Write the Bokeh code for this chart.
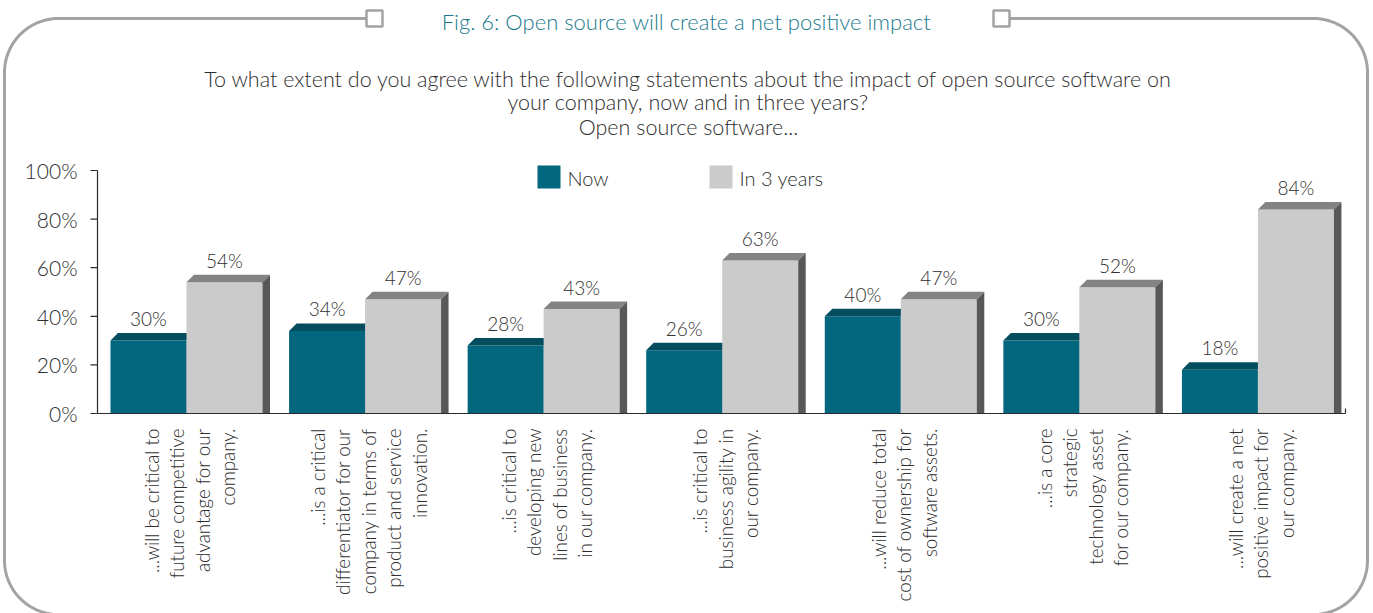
import numpy as np
from bokeh.plotting import figure
from bokeh.models import Range1d, ColumnDataSource
from bokeh.core.properties import value
from bokeh.embed import file_html
from bokeh.resources import INLINE

# ---- data ----
categories = [
    "...will be critical to\nfuture competitive\nadvantage for our\ncompany.",
    "...is a critical\ndifferentiator for our\ncompany in terms of\nproduct and service\ninnovation.",
    "...is critical to\ndeveloping new\nlines of business\nin our company.",
    "...is critical to\nbusiness agility in\nour company.",
    "...will reduce total\ncost of ownership for\nsoftware assets.",
    "...is a core\nstrategic\ntechnology asset\nfor our company.",
    "...will create a net\npositive impact for\nour company.",
]
now = [30, 34, 28, 26, 40, 30, 18]
in_3_years = [54, 47, 43, 63, 47, 52, 84]
series_names = ["Now", "In 3 years"]
y_ticks = [0, 20, 40, 60, 80, 100]
y_tick_labels = ["0%", "20%", "40%", "60%", "80%", "100%"]

title_text = "Fig. 6: Open source will create a net positive impact"
question_lines = [
    "To what extent do you agree with the following statements about the impact of open source software on",
    "your company, now and in three years?",
    "Open source software...",
]

# ---- canvas geometry ----
WIDTH, HEIGHT = 1373, 613
X0_PX, Y0_PX = 97, 413          # pixel position of the origin
GROUP_PX = 1250 / 7             # pixels per category
PCT_PX = 2.43                   # pixels per percentage point


def X(px):
    return (px - X0_PX) / GROUP_PX


def Y(py):
    return (Y0_PX - py) / PCT_PX


FONT = value("'Lato Light', Lato")
TEXT = "#2e2e2e"
TEAL, TEAL_TOP = "#00677f", "#034d5e"
GREY, GREY_TOP, GREY_SIDE = "#cbcbcb", "#838386", "#58585a"

p = figure(width=WIDTH, height=HEIGHT, output_backend="svg", toolbar_location=None,
           x_range=Range1d(X(0), X(WIDTH)), y_range=Range1d(Y(HEIGHT), Y(0)),
           x_axis_type=None, y_axis_type=None, min_border=0)
p.outline_line_color = None
p.grid.visible = False
p.background_fill_color = "white"
p.border_fill_color = "white"

# ---- rounded frame with two small squares in the top edge ----
def arc(cx, cy, r, a0, a1, n=30):
    t = np.linspace(a0, a1, n)
    return cx + r * np.cos(t), cy - r * np.sin(t)

L, R, T, B, RAD = 4, 1367, 18, 614, 54
fx, fy = [366, L + RAD], [T, T]
ax_, ay_ = arc(L + RAD, T + RAD, RAD, np.pi / 2, np.pi); fx += list(ax_); fy += list(ay_)
ax_, ay_ = arc(L + RAD, B - RAD, RAD, np.pi, 1.5 * np.pi); fx += list(ax_); fy += list(ay_)
ax_, ay_ = arc(R - RAD, B - RAD, RAD, 1.5 * np.pi, 2 * np.pi); fx += list(ax_); fy += list(ay_)
ax_, ay_ = arc(R - RAD, T + RAD, RAD, 0, np.pi / 2); fx += list(ax_); fy += list(ay_)
fx += [1009]; fy += [T]
p.line([X(v) for v in fx], [Y(v) for v in fy], line_color="#a3a3a5", line_width=3)
for sx in (366, 993):
    p.quad(left=X(sx), right=X(sx + 16), top=Y(T - 8), bottom=Y(T + 8),
           fill_color="white", line_color="#a3a3a5", line_width=2.5)

# ---- titles ----
p.text(x=[X(686)], y=[Y(21)], text=[title_text], text_font=FONT, text_font_size="22px",
       text_color="#1a7b8d", text_align="center", text_baseline="middle")
p.text(x=[X(688)] * 3, y=[Y(78), Y(101), Y(126)], text=question_lines, text_font=FONT,
       text_font_size="21.5px", text_color=TEXT, text_align="center", text_baseline="middle")

# ---- legend ----
for sx, lbl, col in ((537, series_names[0], TEAL), (709, series_names[1], GREY)):
    p.quad(left=X(sx), right=X(sx + 23), top=Y(165), bottom=Y(188), fill_color=col, line_color=None)
    p.text(x=[X(sx + 30)], y=[Y(177)], text=[lbl], text_font=FONT, text_font_size="20px",
           text_color=TEXT, text_align="left", text_baseline="middle")

# ---- bars (3-D look: front, top face, right side face) ----
OFF, BW = 13 / GROUP_PX, 76 / GROUP_PX
DX, DY = 7.5 / GROUP_PX, 7.5 / PCT_PX
idx = np.arange(len(categories))
now_l, now_r = idx + OFF, idx + OFF + BW
fut_l, fut_r = now_r, now_r + BW


def top_faces(left, right, vals):
    return ([[l, r, r + DX, l + DX] for l, r in zip(left, right)],
            [[v, v, v + DY, v + DY] for v in vals])


def side_faces(right, vals):
    return ([[r, r + DX, r + DX, r] for r in right],
            [[0, 0, v + DY, v] for v in vals])


xs, ys = side_faces(now_r, now)
p.patches(xs, ys, fill_color=TEAL_TOP, line_color=None)
p.quad(left=now_l, right=now_r, bottom=0, top=now, fill_color=TEAL, line_color=None)
xs, ys = top_faces(now_l, now_r, now)
p.patches(xs, ys, fill_color=TEAL_TOP, line_color=None)

p.quad(left=fut_l, right=fut_r, bottom=0, top=in_3_years, fill_color=GREY, line_color=None)
xs, ys = side_faces(fut_r, in_3_years)
p.patches(xs, ys, fill_color=GREY_SIDE, line_color=None)
xs, ys = top_faces(fut_l, fut_r, in_3_years)
p.patches(xs, ys, fill_color=GREY_TOP, line_color=None)

# value labels
lab_off = 22 / PCT_PX
p.text(x=(now_l + now_r) / 2, y=np.array(now) + lab_off, text=[f"{v}%" for v in now],
       text_font=FONT, text_font_size="19px", text_color=TEXT, text_align="center",
       text_baseline="middle")
p.text(x=(fut_l + fut_r) / 2, y=np.array(in_3_years) + lab_off,
       text=[f"{v}%" for v in in_3_years], text_font=FONT, text_font_size="19px",
       text_color=TEXT, text_align="center", text_baseline="middle")

# ---- axes ----
AX = "#2b2b2b"
p.line([X(X0_PX), X(X0_PX)], [0, 100], line_color=AX, line_width=1.2)
p.line([X(X0_PX), X(1345)], [0, 0], line_color=AX, line_width=1.2)
p.line([X(1345), X(1345)], [0, Y(408)], line_color=AX, line_width=1.2)
p.segment(x0=[X(90)] * len(y_ticks), x1=[X(X0_PX)] * len(y_ticks), y0=y_ticks, y1=y_ticks,
          line_color=AX, line_width=1.2)
p.text(x=[X(77)] * len(y_ticks), y=y_ticks, text=y_tick_labels, text_font=FONT,
       text_font_size="21px", text_color=TEXT, text_align="right", text_baseline="middle")

# rotated category labels, one text per line
cx, cy, ctext, coff = [], [], [], []
LINE_GAP = 25.5
for i, cat in enumerate(categories):
    lines = cat.split("\n")
    n = len(lines)
    for j, ln in enumerate(lines):
        cx.append(now_r[i])
        cy.append(Y(428))
        ctext.append(ln)
        coff.append((j - (n - 1) / 2) * LINE_GAP + 3)
src = ColumnDataSource(dict(x=cx, y=cy, text=ctext, xo=coff))
p.text(x="x", y="y", text="text", x_offset="xo", source=src, angle=np.pi / 2,
       text_font=FONT, text_font_size="18.8px", text_color=TEXT, text_align="right",
       text_baseline="middle")

open("out.html", "w").write(file_html(p, INLINE))
